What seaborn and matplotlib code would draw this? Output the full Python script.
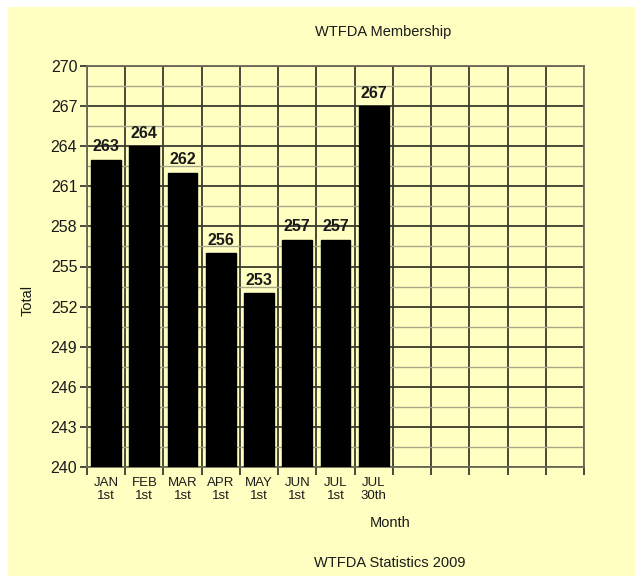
import matplotlib
matplotlib.use("Agg")
import matplotlib.pyplot as plt
import seaborn as sns
import pandas as pd
from matplotlib.patches import Rectangle
from matplotlib.ticker import MultipleLocator

# data
months = ['JAN\n1st', 'FEB\n1st', 'MAR\n1st', 'APR\n1st', 'MAY\n1st', 'JUN\n1st', 'JUL\n1st', 'JUL\n30th']
totals = [263, 264, 262, 256, 253, 257, 257, 267]
n_slots = 13
yticks = list(range(240, 271, 3))

df = pd.DataFrame({'Month': months, 'Total': totals})

sns.set_style('white')
plt.rcParams['font.family'] = ['Liberation Sans', 'DejaVu Sans']
plt.rcParams['text.color'] = '#1a1a1a'
plt.rcParams['xtick.labelcolor'] = '#1a1a1a'
plt.rcParams['ytick.labelcolor'] = '#1a1a1a'

bg = '#ffffc2'
fig = plt.figure(figsize=(6.42, 5.76), dpi=100, facecolor='white')
fig.add_artist(Rectangle((8 / 642, 0), 627 / 642, 1 - 7 / 576, transform=fig.transFigure,
                         facecolor=bg, edgecolor='none', zorder=-10))
ax = fig.add_axes([87 / 642, 1 - 467 / 576, 497 / 642, 401 / 576])
ax.set_facecolor(bg)

sns.barplot(data=df, x='Month', y='Total', color='black', width=0.78, ax=ax, zorder=3)
for p in ax.patches:
    p.set_facecolor('black')
    p.set_edgecolor('black')

ax.set_xlim(-0.5, n_slots - 0.5)
ax.set_ylim(240, 270)
ax.set_yticks(yticks)
ax.yaxis.set_minor_locator(MultipleLocator(1.5))
ax.set_xticks(range(len(months)))
ax.set_xticklabels(months, fontsize=9.5, linespacing=1.15)
ax.set_xticks([i - 0.5 for i in range(n_slots + 1)], minor=True)

ax.grid(True, which='major', axis='y', color='#3a3a2e', lw=1.3, zorder=1)
ax.grid(True, which='minor', axis='y', color='#a8a88a', lw=1.0, zorder=1)
ax.grid(True, which='minor', axis='x', color='#3a3a2e', lw=1.3, zorder=1)
ax.set_axisbelow(True)

ax.tick_params(axis='x', which='major', length=0, pad=7)
ax.tick_params(axis='x', which='minor', length=6, width=1.3, color='#3a3a2e')
ax.tick_params(axis='y', which='major', length=5, width=1.3, color='#3a3a2e', labelsize=11.5, pad=2)
ax.tick_params(axis='y', which='minor', length=0)
ax.yaxis.set_ticks_position('left')
ax.xaxis.set_ticks_position('bottom')
for s in ax.spines.values():
    s.set_color('#6a6a58')
    s.set_linewidth(1.3)

ax.bar_label(ax.containers[0], labels=[str(v) for v in totals], padding=4,
             fontsize=11.5, fontweight='bold')

ax.set_xlabel('')
ax.set_ylabel('')
fig.text(390 / 642, 1 - 523 / 576, 'Month', ha='center', va='center', fontsize=10.5)
fig.text(28 / 642, 1 - 300 / 576, 'Total', ha='center', va='center', rotation=90, fontsize=10.5)
fig.text(383 / 642, 1 - 32 / 576, 'WTFDA Membership', ha='center', va='center', fontsize=10.5)
fig.text(390 / 642, 1 - 563 / 576, 'WTFDA Statistics 2009', ha='center', va='center', fontsize=10.5)

fig.savefig('out.png', dpi=100, facecolor='white')
